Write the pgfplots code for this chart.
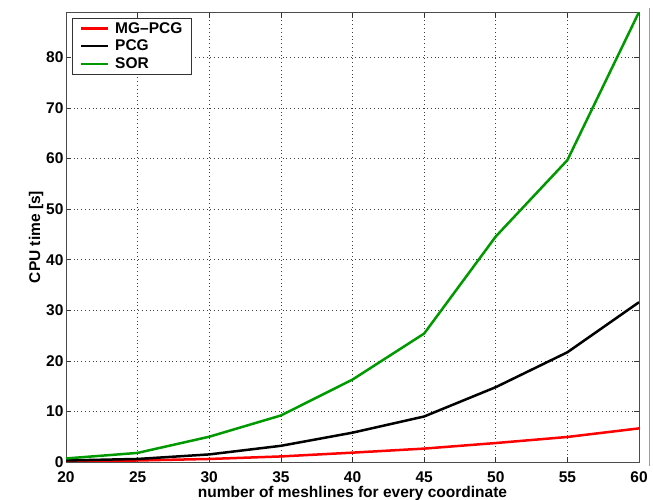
\documentclass[border=0pt]{standalone}
\usepackage{fontspec}
\setmainfont{Liberation Sans}
\usepackage{pgfplots}
\pgfplotsset{compat=1.18}
\begin{document}
\begin{tikzpicture}
\useasboundingbox (0,0) rectangle (653bp,500bp);
\begin{axis}[
  at={(66bp,38bp)}, anchor=south west,
  scale only axis, width=573bp, height=450bp,
  xmin=20, xmax=60, ymin=0, ymax=89,
  xtick={20,25,...,60}, ytick={0,10,...,80},
  tick align=inside, major tick length=5bp,
  tick style={black!80, line width=0.6bp},
  axis line style={black!70, line width=0.8bp},
  grid=major,
  major grid style={black!75, line width=0.6bp, dash pattern=on 0.8bp off 3bp},
  font=\bfseries\fontsize{15.5bp}{18bp}\selectfont,
  /pgf/number format/assume math mode=true,
  ticklabel style={font=\bfseries\fontsize{15.5bp}{18bp}\selectfont},
  xticklabel style={yshift=-6bp},
  yticklabel style={xshift=1bp},
  xlabel={number of meshlines for every coordinate},
  ylabel={CPU time [s]},
  xlabel style={font=\bfseries\fontsize{15.5bp}{18bp}\selectfont, yshift=3bp},
  ylabel style={font=\bfseries\fontsize{15.5bp}{18bp}\selectfont, yshift=-4bp},
  legend style={at={(0.011,0.987)}, anchor=north west, draw=black!80, line width=0.8bp,
    font=\bfseries\fontsize{15.5bp}{18bp}\selectfont, row sep=1.5bp, inner xsep=7bp, inner ysep=2bp},
  legend cell align=left,
  legend image code/.code={\draw[#1, line width=2.5bp] (0bp,0bp) -- (27bp,0bp); \path (31bp,0bp);},
]
\addplot[red, line width=2.5bp] coordinates {(20,0.1) (25,0.3) (30,0.6) (35,1.1) (40,1.85) (45,2.65) (50,3.75) (55,4.95) (60,6.65)};
\addplot[black, line width=2.5bp] coordinates {(20,0.3) (25,0.6) (30,1.5) (35,3.2) (40,5.8) (45,9.0) (50,14.8) (55,21.7) (60,31.6)};
\addplot[green!60!black, line width=2.5bp] coordinates {(20,0.7) (25,1.8) (30,5.0) (35,9.2) (40,16.3) (45,25.4) (50,44.6) (55,59.7) (60,89)};
\legend{MG--PCG, PCG, SOR}
\end{axis}
\draw[red!55, line width=0.8bp] (649bp,34bp) -- (649bp,492bp);
\end{tikzpicture}
\end{document}
